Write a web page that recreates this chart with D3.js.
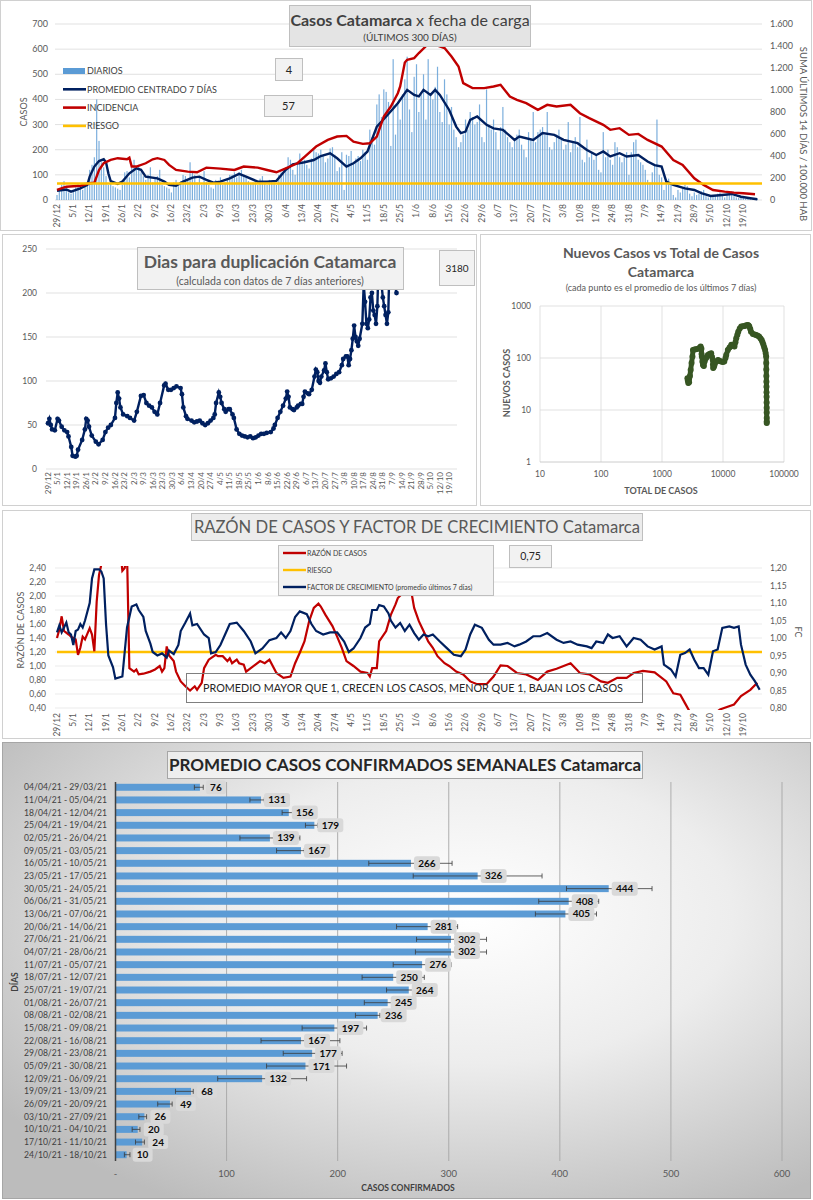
<!DOCTYPE html>
<html>
<head>
<meta charset="utf-8">
<script src="https://cdn.jsdelivr.net/npm/d3@7"></script>
<style>
  body { margin: 0; background: #fff; }
  svg { display: block; font-family: Lato, "Open Sans", sans-serif; }
</style>
</head>
<body>
<svg id="chart" width="813" height="1200"></svg>
<script>
// ---- data ----
const dateLabels = ["29/12","5/1","12/1","19/1","26/1","2/2","9/2","16/2","23/2","2/3","9/3","16/3","23/3","30/3",
  "6/4","13/4","20/4","27/4","4/5","11/5","18/5","25/5","1/6","8/6","15/6","22/6","29/6","6/7","13/7","20/7",
  "27/7","3/8","10/8","17/8","24/8","31/8","7/9","14/9","21/9","28/9","5/10","12/10","19/10"];

// daily cases, one per day starting 29/12
const dailyCases = [
  20, 45, 60, 75, 40, 30, 25,   35, 50, 65, 55, 40, 70, 60,   120, 140, 170, 400, 235, 150, 130,
  95, 60, 70, 55, 50, 45, 40,   60, 110, 115, 90, 130, 160, 120,   140, 110, 95, 80, 100, 130, 70,
  90, 95, 120, 60, 55, 50, 45,   30, 70, 80, 55, 75, 100, 95,   80, 150, 110, 100, 70, 95, 60,
  115, 70, 60, 50, 45, 80, 75,   90, 60, 70, 85, 100, 100, 110,   90, 110, 120, 100, 95, 75, 65,
  70, 75, 60, 85, 95, 70, 60,   80, 75, 70, 60, 100, 110, 120,   130, 170, 160, 120, 100, 140, 185,
  150, 160, 140, 125, 165, 200, 190,   185, 200, 175, 150, 165, 205, 210,   180, 115, 130, 190, 40, 180, 175,
  195, 150, 165, 175, 155, 200, 190,   160, 280, 250, 220, 380, 420, 330,   440, 430, 390, 215, 560, 260, 380,
  320, 420, 480, 570, 360, 270, 490,   540, 350, 420, 500, 320, 560, 420,   400, 450, 530, 350, 310, 480, 420,
  300, 370, 280, 250, 210, 230, 260,   320, 280, 350, 330, 300, 310, 380,   250, 230, 440, 300, 280, 320, 270,
  200, 290, 370, 280, 250, 230, 210,   240, 260, 280, 220, 200, 170, 270,   240, 350, 230, 270, 280, 290, 260,
  350, 210, 200, 230, 260, 280, 240,   200, 220, 310, 190, 230, 250, 210,   330, 160, 150, 240, 170, 190, 160,
  180, 120, 110, 270, 170, 200, 160,   140, 230, 210, 170, 150, 170, 190,   100, 190, 230, 240, 160, 150, 140,
  120, 80, 70, 110, 140, 320, 100,   90, 40, 75, 85, 60, 20, 10,   40, 30, 45, 60, 55, 25, 15,
  30, 20, 25, 35, 40, 15, 10,   15, 12, 20, 25, 30, 20, 10,   25, 30, 35, 15, 10, 8, 12,
  8, 5, 6, 4, 3, 2, 4
];

// [day, value] centred 7-day average (left axis)
const avg7 = [[0,37],[4,42],[6,33],[10,46],[13,60],[14,93],[16,133],[18,155],[20,162],[21,150],[22,106],[23,75],
  [26,64],[28,73],[31,106],[34,126],[36,120],[38,93],[43,86],[46,73],[48,60],[51,57],[54,73],[58,89],[61,93],
  [64,80],[67,69],[70,73],[74,86],[78,104],[81,93],[86,73],[90,73],[94,76],[98,120],[101,142],[106,150],[110,159],
  [113,175],[117,186],[120,166],[124,133],[127,146],[130,166],[133,193],[137,292],[141,332],[146,385],[150,438],
  [153,418],[155,412],[157,438],[160,418],[162,438],[164,418],[168,358],[171,292],[173,266],[175,272],[177,319],
  [180,332],[184,299],[187,285],[191,279],[196,239],[198,252],[204,239],[208,266],[213,259],[217,239],[223,226],
  [227,199],[231,179],[234,193],[237,173],[241,186],[244,173],[249,179],[253,153],[256,139],[259,133],[261,73],
  [264,60],[269,46],[273,40],[276,27],[280,16],[285,20],[289,24],[293,13],[297,7],[300,3]];

// [day, value] incidence, 14-day sum per 100.000 (right axis)
const incidence = [[0,91],[4,121],[10,130],[14,152],[16,158],[18,273],[20,334],[23,364],[26,380],[30,370],[31,385],
  [32,304],[34,304],[38,334],[41,370],[43,380],[46,364],[48,319],[51,273],[56,258],[60,252],[64,294],[70,285],
  [76,273],[80,304],[86,294],[90,273],[94,252],[98,288],[103,334],[107,410],[111,486],[116,546],[120,577],
  [124,583],[127,531],[131,510],[134,516],[137,577],[140,759],[143,850],[146,971],[147,1032],[149,1250],[150,1275],
  [153,1290],[155,1336],[158,1397],[160,1457],[162,1412],[166,1381],[169,1305],[172,1214],[174,1063],[178,1017],
  [183,1017],[187,1032],[190,1047],[194,941],[197,911],[201,880],[206,820],[210,865],[214,850],[220,865],
  [224,789],[228,744],[234,683],[237,638],[241,653],[245,592],[249,601],[253,546],[259,486],[264,364],[268,319],
  [273,197],[277,137],[281,91],[286,76],[290,67],[294,61],[299,52]];
const riesgoIncidence = 150;

// [day, days to double]
const doublingDays = [[0,52],[1,57],[2,50],[3,45],[5,44],[7,57],[8,55],[10,48],[12,44],[14,42],[15,37],[17,25],
  [18,15],[20,14],[21,15],[22,22],[25,33],[27,45],[28,57],[29,55],[30,48],[32,38],[35,31],[37,28],[40,33],[42,42],
  [44,47],[46,50],[49,58],[50,75],[51,87],[52,80],[53,70],[55,62],[58,60],[60,58],[63,55],[65,65],[68,83],[70,84],
  [72,75],[74,72],[76,70],[78,65],[80,62],[82,75],[85,95],[86,97],[88,90],[90,90],[92,92],[94,94],[97,92],[98,85],
  [99,70],[101,60],[102,57],[105,55],[107,53],[109,54],[111,55],[113,52],[115,50],[117,52],[119,55],[121,58],
  [122,62],[123,75],[125,87],[126,82],[127,75],[129,68],[130,65],[132,68],[133,68],[135,62],[136,58],[138,45],
  [140,40],[142,38],[144,37],[146,36],[148,37],[150,35],[152,36],[154,38],[156,40],[158,40],[160,41],[163,42],
  [165,46],[166,50],[168,58],[170,65],[172,72],[174,80],[175,88],[176,82],[177,70],[179,68],[180,67],[182,70],
  [183,72],[185,74],[186,74],[187,82],[188,88],[190,86],[191,85],[193,90],[195,105],[196,113],[197,110],[198,100],
  [199,98],[200,105],[202,112],[203,120],[204,110],[205,102],[207,103],[209,105],[211,108],[213,110],[215,118],
  [216,125],[218,128],[219,128],[220,118],[221,125],[222,135],[223,148],[224,163],[225,150],[226,145],[227,140],
  [228,148],[230,165],[231,210],[232,190],[233,165],[234,160],[235,170],[236,195],[237,200],[238,180],[239,175],
  [240,165],[241,185],[242,240],[243,230],[244,210],[245,195],[246,185],[247,175],[248,165],[249,178],[250,240],
  [252,225],[255,200]];
const doublingBox = "3180";

// [total cases, new cases (7-day mean)]
const newVsTotal = [[2610,41],[2650,37],[2700,33],[2780,34],[2870,45],[2950,59],[3050,80],[3155,107],[3220,143],
  [3400,145],[3600,148],[3900,150],[4100,155],[4300,166],[4430,150],[4450,120],[4500,107],[4600,85],[4700,73],
  [4850,70],[5000,86],[5300,100],[5650,114],[6000,120],[6400,123],[6600,105],[6800,92],[6850,75],[6900,64],
  [7100,68],[7250,73],[7700,85],[8300,92],[8800,88],[9300,86],[9900,84],[10500,86],[11000,100],[11300,114],
  [12000,143],[12800,160],[13700,179],[14500,172],[15400,166],[16000,200],[16500,240],[17200,280],[17800,321],
  [18800,370],[19900,402],[21200,408],[22700,413],[24000,425],[25500,432],[26300,420],[27000,402],[28000,360],
  [28800,321],[30900,290],[33000,282],[35000,277],[37000,268],[39000,258],[41000,240],[43000,222],[44500,200],
  [46000,179],[47500,160],[49000,143],[50000,125],[51000,107],[51200,80],[51300,60],[51400,45],[51500,35],
  [51600,28],[51700,22],[51800,18],[51900,14],[52000,11],[52000,9],[52100,7],[52100,6],[52100,5.6]];

// [day, value] razón de casos (left axis) and factor de crecimiento (right axis)
const razon = [[0,1.40],[1,1.52],[2,1.71],[3,1.50],[5,1.45],[6,1.42],[8,1.38],[9,1.16],[10,1.26],[11,1.42],[12,1.38],
  [14,1.54],[15,1.45],[16,1.21],[17,1.92],[18,2.30],[19,2.45],[21,2.9],[24,3.2],[27,2.7],[28,2.36],[29,2.40],
  [30,2.6],[31,0.97],[33,0.92],[34,0.95],[35,0.88],[37,0.89],[40,0.92],[42,0.95],[44,1.00],[45,0.92],[46,0.97],
  [47,1.28],[48,1.15],[50,1.07],[51,0.92],[53,0.78],[55,0.71],[57,0.65],[59,0.71],[60,0.66],[62,0.76],[63,0.97],
  [65,1.09],[68,1.16],[69,1.14],[71,1.14],[73,1.07],[74,1.11],[75,1.04],[77,1.09],[78,1.04],[80,1.02],[81,0.92],
  [83,0.97],[85,1.02],[87,1.07],[89,1.04],[91,1.09],[94,0.90],[97,0.83],[100,0.85],[102,1.04],[104,1.19],
  [106,1.35],[108,1.64],[110,1.83],[112,1.89],[113,1.85],[115,1.73],[118,1.57],[120,1.42],[122,1.26],[124,1.07],
  [127,1.00],[130,0.92],[133,0.90],[134,0.85],[135,0.97],[137,0.97],[138,1.35],[141,1.50],[143,1.73],[145,1.88],
  [146,1.97],[148,2.04],[149,2.3],[150,2.6],[151,2.5],[152,2.02],[153,1.83],[155,1.64],[157,1.50],[159,1.35],
  [161,1.26],[163,1.14],[166,1.04],[168,1.00],[171,0.92],[174,0.88],[177,0.78],[180,0.74],[184,0.74],[187,0.85],
  [190,1.01],[193,1.00],[197,0.90],[201,0.88],[206,0.80],[210,0.92],[214,0.96],[220,1.04],[224,0.90],[228,0.88],
  [233,0.78],[236,0.76],[240,0.83],[244,0.83],[247,0.90],[251,0.93],[256,0.91],[261,0.78],[264,0.61],[267,0.59],
  [269,0.47],[271,0.35],[276,0.2],[281,0.3],[284,0.38],[290,0.45],[293,0.57],[297,0.66],[300,0.76]];
const factor = [[0,1.016],[1,1.036],[2,1.016],[3,1.03],[4,1.044],[5,1.016],[6,1.01],[7,0.98],[8,1.02],[9,1.024],
  [10,1.04],[11,1.03],[12,1.05],[14,1.10],[15,1.17],[16,1.196],[18,1.196],[19,1.19],[20,1.17],[21,1.04],[22,0.95],
  [24,0.916],[25,0.884],[28,0.89],[29,0.96],[30,1.03],[32,1.09],[34,1.096],[35,1.08],[37,1.06],[38,1.02],[40,0.984],
  [41,0.96],[43,0.95],[45,0.956],[47,0.944],[48,0.964],[50,0.954],[52,0.98],[53,1.02],[55,1.044],[57,1.07],
  [58,1.036],[60,1.04],[63,1.01],[65,1.0],[66,0.956],[68,0.96],[70,0.98],[72,1.01],[74,1.04],[77,1.044],[78,1.036],
  [80,1.02],[83,0.99],[85,0.956],[88,0.97],[91,0.994],[94,1.0],[96,1.016],[98,1.0],[100,1.02],[102,1.06],
  [104,1.076],[107,1.068],[109,1.04],[111,1.02],[114,1.01],[117,1.016],[120,1.016],[123,0.99],[125,0.96],
  [127,0.97],[130,1.0],[132,1.03],[134,1.04],[135,1.08],[137,1.08],[138,1.094],[140,1.09],[142,1.07],[143,1.05],
  [145,1.03],[147,1.043],[149,1.02],[151,1.038],[153,1.014],[155,0.995],[157,1.01],[159,1.005],[161,1.01],
  [164,0.99],[167,0.971],[170,0.952],[173,0.948],[175,0.967],[177,1.01],[179,1.038],[182,1.029],[185,0.995],
  [187,0.981],[190,0.981],[193,0.986],[196,0.976],[198,0.981],[201,0.99],[204,1.005],[207,1.005],[210,1.014],
  [214,0.995],[217,0.986],[220,0.99],[223,0.981],[227,0.976],[229,0.971],[231,0.99],[234,0.986],[236,1.01],
  [238,1.0],[241,1.005],[244,0.976],[247,1.0],[250,0.995],[253,0.976],[256,0.967],[259,0.976],[260,0.924],
  [263,0.91],[265,0.89],[267,0.952],[269,0.957],[271,0.967],[273,0.938],[275,0.914],[277,0.914],[279,0.895],
  [281,0.962],[283,0.967],[285,1.029],[288,1.033],[290,1.029],[292,1.033],[293,0.981],[295,0.924],[297,0.895],
  [299,0.876],[301,0.852]];
const riesgoRazon = 1.2;

const weekLabels = ["04/04/21 - 29/03/21","11/04/21 - 05/04/21","18/04/21 - 12/04/21","25/04/21 - 19/04/21",
  "02/05/21 - 26/04/21","09/05/21 - 03/05/21","16/05/21 - 10/05/21","23/05/21 - 17/05/21","30/05/21 - 24/05/21",
  "06/06/21 - 31/05/21","13/06/21 - 07/06/21","20/06/21 - 14/06/21","27/06/21 - 21/06/21","04/07/21 - 28/06/21",
  "11/07/21 - 05/07/21","18/07/21 - 12/07/21","25/07/21 - 19/07/21","01/08/21 - 26/07/21","08/08/21 - 02/08/21",
  "15/08/21 - 09/08/21","22/08/21 - 16/08/21","29/08/21 - 23/08/21","05/09/21 - 30/08/21","12/09/21 - 06/09/21",
  "19/09/21 - 13/09/21","26/09/21 - 20/09/21","03/10/21 - 27/09/21","10/10/21 - 04/10/21","17/10/21 - 11/10/21",
  "24/10/21 - 18/10/21"];
const weekAvg  = [76,131,156,179,139,167,266,326,444,408,405,281,302,302,276,250,264,245,236,197,167,177,171,132,68,49,26,20,24,10];
const weekLow  = [71,121,150,171,112,145,228,268,406,381,378,253,271,270,250,222,244,224,216,168,131,151,136,92,54,38,21,15,18,8];
const weekHigh = [79,134,160,182,166,170,303,384,483,435,433,308,334,334,302,278,280,250,238,226,202,204,208,172,70,51,28,22,26,13];

// ---- helpers ----
const svg = d3.select("#chart");
const gridC = "#d9d9d9", axisC = "#595959";
const navy = "#002060", red = "#c00000", gold = "#ffc000", barBlue = "#5b9bd5";
const es = d3.formatLocale({decimal: ",", thousands: ".", grouping: [3], currency: ["$", ""]});
const fmtMiles = es.format(",");
const fmt2 = es.format(".2f");

const rect = (g, x, y, w, h, fill, stroke) => g.append("rect")
  .attr("x", x).attr("y", y).attr("width", w).attr("height", h)
  .attr("fill", fill).attr("stroke", stroke || "none");
const label = (g, x, y, s, size, opt = {}) => g.append("text")
  .attr("x", x).attr("y", y).text(s)
  .attr("font-size", size)
  .attr("fill", opt.fill || axisC)
  .attr("font-weight", opt.bold ? "bold" : null)
  .attr("text-anchor", opt.anchor || "middle");
const rotLabel = (g, x, y, s, size, angle, opt = {}) => g.append("text")
  .attr("transform", `translate(${x},${y}) rotate(${angle})`)
  .attr("text-anchor", opt.anchor || "middle")
  .attr("dy", opt.dy || "0.32em")
  .attr("font-size", size).attr("fill", opt.fill || axisC)
  .attr("font-weight", opt.bold ? "bold" : null)
  .text(s);

// panel frames
rect(svg, 0.5, 0.5, 811, 230, "#fff", "#d0d0d0");
rect(svg, 2.5, 234.5, 474, 271, "#fff", "#d0d0d0");
rect(svg, 480.5, 234.5, 330, 271, "#fff", "#d0d0d0");
rect(svg, 2.5, 510.5, 808, 228, "#fff", "#d0d0d0");

// ============ Panel 1: casos diarios ============
{
  const g = svg.append("g");
  const x = d3.scaleLinear().domain([0, 302]).range([57, 762]);
  const yL = d3.scaleLinear().domain([0, 700]).range([200, 24]);
  const yR = d3.scaleLinear().domain([0, 1600]).range([200, 24]);

  yL.ticks(7).forEach(t => {
    g.append("line").attr("x1", 55).attr("x2", 762).attr("y1", yL(t)).attr("y2", yL(t))
      .attr("stroke", gridC).attr("stroke-width", 0.8);
    label(g, 48, yL(t) + 3, t, 9, {anchor: "end"});
  });
  yR.ticks(8).forEach(t => label(g, 770, yR(t) + 3, fmtMiles(t), 9, {anchor: "start"}));

  dateLabels.forEach((d, i) => rotLabel(g, x(i * 7), 204, d, 8.5, -90, {anchor: "end"}));

  g.append("g").selectAll("rect").data(dailyCases).join("rect")
    .attr("x", (d, i) => x(i) - 0.6).attr("width", 1.2)
    .attr("y", d => yL(d)).attr("height", d => 200 - yL(d))
    .attr("fill", barBlue).attr("opacity", 0.8);

  const lineL = d3.line().x(d => x(d[0])).y(d => yL(d[1]));
  const lineR = d3.line().x(d => x(d[0])).y(d => yR(d[1]));
  g.append("path").attr("d", lineL(avg7)).attr("fill", "none").attr("stroke", navy).attr("stroke-width", 2.4);
  g.append("path").attr("d", lineR(incidence)).attr("fill", "none").attr("stroke", red).attr("stroke-width", 2.4);
  g.append("line").attr("x1", 57).attr("x2", 762).attr("y1", yR(riesgoIncidence)).attr("y2", yR(riesgoIncidence))
    .attr("stroke", gold).attr("stroke-width", 2.6);

  rotLabel(g, 24, 112, "CASOS", 9, -90);
  rotLabel(g, 803, 134, "SUMA ÚLTIMOS 14 DÍAS / 100.000 HAB", 9.5, 90);

  // legend
  const leg = [["DIARIOS", "bar", barBlue], ["PROMEDIO CENTRADO 7 DÍAS", "line", navy],
               ["INCIDENCIA", "line", red], ["RIESGO", "line", gold]];
  leg.forEach((l, i) => {
    const yy = 71 + i * 18.3;
    if (l[1] === "bar") rect(g, 63, yy - 3, 22, 6, l[2]);
    else g.append("line").attr("x1", 63).attr("x2", 86).attr("y1", yy).attr("y2", yy)
      .attr("stroke", l[2]).attr("stroke-width", 2.6);
    label(g, 87, yy + 3.2, l[0], 9, {anchor: "start", fill: "#404040"});
  });

  rect(g, 275.5, 58.5, 27, 22, "#f2f2f2", "#bfbfbf");
  label(g, 289, 73.5, "4", 11, {fill: "#262626"});
  rect(g, 264.5, 95.5, 48, 21, "#f2f2f2", "#bfbfbf");
  label(g, 288.5, 110, "57", 11, {fill: "#262626"});

  rect(g, 289.5, 5.5, 241, 41, "#e4e4e4", "#bfbfbf");
  const t = label(g, 410, 26, "", 16, {fill: "#404040"});
  t.append("tspan").attr("font-weight", "bold").text("Casos Catamarca");
  t.append("tspan").text(" x fecha de carga");
  label(g, 410, 41, "(ÚLTIMOS 300 DÍAS)", 10, {fill: "#404040"});
}

// ============ Panel 2: días para duplicación ============
{
  const g = svg.append("g");
  const x = d3.scaleLinear().domain([0, 300]).range([48, 458]);
  const y = d3.scaleLinear().domain([0, 250]).range([469, 249]);
  y.ticks(5).forEach(t => {
    g.append("line").attr("x1", 46).attr("x2", 457).attr("y1", y(t)).attr("y2", y(t))
      .attr("stroke", gridC).attr("stroke-width", 0.8);
    label(g, 37, y(t) + 3, t, 8.5, {anchor: "end"});
  });
  dateLabels.forEach((d, i) => rotLabel(g, x(i * 7), 472, d, 8, -90, {anchor: "end"}));

  g.append("path").attr("d", d3.line().x(d => x(d[0])).y(d => y(d[1]))(doublingDays))
    .attr("fill", "none").attr("stroke", navy).attr("stroke-width", 2.4);
  g.append("g").selectAll("circle").data(doublingDays).join("circle")
    .attr("cx", d => x(d[0])).attr("cy", d => y(d[1])).attr("r", 2.4).attr("fill", navy);

  rect(g, 137.5, 247.5, 266, 42, "#f2f2f2", "#bfbfbf");
  label(g, 270, 268, "Dias para duplicación Catamarca", 17.5, {bold: true, fill: "#595959"});
  label(g, 270, 285, "(calculada con datos de 7 días anteriores)", 10.5, {fill: "#595959"});
  rect(g, 439.5, 250.5, 35, 35, "#f2f2f2", "#bfbfbf");
  label(g, 457, 272, doublingBox, 10, {fill: "#262626"});
}

// ============ Panel 3: nuevos vs total (log-log) ============
{
  const g = svg.append("g");
  const x = d3.scaleLog().domain([10, 100000]).range([540, 784]);
  const y = d3.scaleLog().domain([1, 1000]).range([462, 306]);
  [10, 100, 1000, 10000, 100000].forEach(t => {
    g.append("line").attr("x1", x(t)).attr("x2", x(t)).attr("y1", 306).attr("y2", 462)
      .attr("stroke", gridC).attr("stroke-width", 0.8);
    label(g, x(t), 477, t, 8.5);
  });
  [1, 10, 100, 1000].forEach(t => {
    g.append("line").attr("x1", 540).attr("x2", 784).attr("y1", y(t)).attr("y2", y(t))
      .attr("stroke", t === 1 ? "#bfbfbf" : gridC).attr("stroke-width", 0.8);
    label(g, 531, y(t) + 3, t, 8.5, {anchor: "end"});
  });
  const green = "#375623";
  g.append("path").attr("d", d3.line().x(d => x(d[0])).y(d => y(d[1]))(newVsTotal))
    .attr("fill", "none").attr("stroke", green).attr("stroke-width", 5)
    .attr("stroke-linejoin", "round").attr("stroke-linecap", "round");
  g.append("g").selectAll("circle").data(newVsTotal).join("circle")
    .attr("cx", d => x(d[0])).attr("cy", d => y(d[1])).attr("r", 3).attr("fill", green);

  label(g, 661, 258, "Nuevos Casos vs Total de Casos", 14, {bold: true, fill: "#595959"});
  label(g, 661, 277, "Catamarca", 14, {bold: true, fill: "#595959"});
  label(g, 661, 291, "(cada punto es el promedio de los últimos 7 días)", 9, {fill: "#595959"});
  rotLabel(g, 507, 383, "NUEVOS CASOS", 9, -90, {bold: true});
  label(g, 661, 494, "TOTAL DE CASOS", 9, {bold: true});
}

// ============ Panel 4: razón de casos y factor de crecimiento ============
{
  const g = svg.append("g");
  const x = d3.scaleLinear().domain([0, 302]).range([57, 762]);
  const yL = d3.scaleLinear().domain([0.4, 2.4]).range([708, 568]);
  const yR = d3.scaleLinear().domain([0.8, 1.2]).range([708, 568]);
  d3.range(0.4, 2.41, 0.2).forEach(t => {
    g.append("line").attr("x1", 55).attr("x2", 762).attr("y1", yL(t)).attr("y2", yL(t))
      .attr("stroke", "#e6e6e6").attr("stroke-width", 0.8);
    label(g, 46, yL(t) + 3, fmt2(t), 8.5, {anchor: "end"});
  });
  d3.range(0.8, 1.201, 0.05).forEach(t => label(g, 770, yR(t) + 3, fmt2(t), 8.5, {anchor: "start"}));
  dateLabels.forEach((d, i) => rotLabel(g, x(i * 7), 713, d, 8.5, -90, {anchor: "end"}));

  svg.append("clipPath").attr("id", "clip4").append("rect")
    .attr("x", 55).attr("y", 566).attr("width", 709).attr("height", 144);
  const pl = g.append("g").attr("clip-path", "url(#clip4)");
  pl.append("line").attr("x1", 57).attr("x2", 762).attr("y1", yL(riesgoRazon)).attr("y2", yL(riesgoRazon))
    .attr("stroke", gold).attr("stroke-width", 2.6);
  pl.append("path").attr("d", d3.line().x(d => x(d[0])).y(d => yL(d[1]))(razon))
    .attr("fill", "none").attr("stroke", red).attr("stroke-width", 2.2);
  pl.append("path").attr("d", d3.line().x(d => x(d[0])).y(d => yR(d[1]))(factor))
    .attr("fill", "none").attr("stroke", navy).attr("stroke-width", 2.2);

  rotLabel(g, 21, 630, "RAZÓN  DE CASOS", 9, -90);
  rotLabel(g, 798, 632, "FC", 9, 90);

  rect(g, 186.5, 673.5, 456, 29, "none", "#7f7f7f");
  label(g, 413, 692, "PROMEDIO MAYOR QUE 1, CRECEN LOS CASOS, MENOR QUE 1, BAJAN LOS CASOS", 10.8, {fill: "#262626"});

  rect(g, 191.5, 513.5, 451, 27, "#ececec", "#bfbfbf");
  label(g, 417, 533, "RAZÓN DE CASOS Y FACTOR DE CRECIMIENTO Catamarca", 16.6, {fill: "#595959"});

  rect(g, 278.5, 545.5, 215, 50, "#f2f2f2", "#bfbfbf");
  const leg = [["RAZÓN DE CASOS", red], ["RIESGO", gold], ["FACTOR DE CRECIMIENTO (promedio últimos 7 días)", navy]];
  leg.forEach((l, i) => {
    const yy = 553 + i * 17;
    g.append("line").attr("x1", 283).attr("x2", 306).attr("y1", yy).attr("y2", yy)
      .attr("stroke", l[1]).attr("stroke-width", 2.4);
    label(g, 307, yy + 2.5, l[0], 7, {anchor: "start", fill: "#404040"});
  });
  rect(g, 509.5, 545.5, 42, 22, "#f2f2f2", "#bfbfbf");
  label(g, 530.5, 560, "0,75", 10.5, {fill: "#262626"});
}

// ============ Panel 5: promedio semanal ============
{
  const defs = svg.append("defs");
  const grad = defs.append("radialGradient").attr("id", "bg5")
    .attr("cx", "58%").attr("cy", "38%").attr("r", "72%");
  grad.append("stop").attr("offset", "0%").attr("stop-color", "#ffffff");
  grad.append("stop").attr("offset", "45%").attr("stop-color", "#ededed");
  grad.append("stop").attr("offset", "100%").attr("stop-color", "#bcbcbc");

  const g = svg.append("g");
  rect(g, 2.5, 742.5, 808, 456, "url(#bg5)", "#a6a6a6");
  const x = d3.scaleLinear().domain([0, 600]).range([115.5, 782]);
  const y = d3.scaleBand().domain(weekLabels).range([781, 1161]).paddingInner(0.45).paddingOuter(0.22);

  x.ticks(6).forEach(t => {
    if (t > 0) g.append("line").attr("x1", x(t)).attr("x2", x(t)).attr("y1", 782).attr("y2", 1161)
      .attr("stroke", "#a6a6a6").attr("stroke-width", 0.9);
    label(g, x(t), 1177, t === 0 ? "-" : t, 9.5);
  });

  g.append("g").selectAll("rect").data(weekAvg).join("rect")
    .attr("x", x(0)).attr("y", (d, i) => y(weekLabels[i]))
    .attr("width", d => x(d) - x(0)).attr("height", y.bandwidth())
    .attr("fill", barBlue);

  weekAvg.forEach((v, i) => {
    const cy = y(weekLabels[i]) + y.bandwidth() / 2;
    const x0 = x(weekLow[i]), x1 = x(weekHigh[i]);
    g.append("line").attr("x1", x0).attr("x2", x1).attr("y1", cy).attr("y2", cy)
      .attr("stroke", "#3a3a3a").attr("stroke-width", 0.8);
    [x0, x1].forEach(xx => g.append("line").attr("x1", xx).attr("x2", xx)
      .attr("y1", cy - 2.5).attr("y2", cy + 2.5).attr("stroke", "#3a3a3a").attr("stroke-width", 0.8));
  });

  weekAvg.forEach((v, i) => {
    const cy = y(weekLabels[i]) + y.bandwidth() / 2;
    const cx = x(v) + 16;
    const w = String(v).length * 6 + 8;
    g.append("rect").attr("x", cx - w / 2).attr("y", cy - 7).attr("width", w).attr("height", 14)
      .attr("rx", 3).attr("fill", "#d9d9d9");
    label(g, cx, cy + 3.5, v, 10, {bold: true, fill: "#0d0d0d"});
    label(g, 107, cy + 3, weekLabels[i], 8.6, {anchor: "end", fill: "#404040"});
  });

  g.append("line").attr("x1", 115.5).attr("x2", 115.5).attr("y1", 782).attr("y2", 1161)
    .attr("stroke", "#404040").attr("stroke-width", 1.5);

  rect(g, 167.5, 751.5, 475, 27, "rgba(255,255,255,0.55)", "#a6a6a6");
  label(g, 405, 771, "PROMEDIO CASOS CONFIRMADOS SEMANALES Catamarca", 17, {bold: true, fill: "#262626"});
  label(g, 408, 1191, "CASOS CONFIRMADOS", 8.5, {bold: true, fill: "#404040"});
  rotLabel(g, 15, 982, "DÍAS", 8.5, -90, {bold: true, fill: "#404040"});
}
</script>
</body>
</html>
